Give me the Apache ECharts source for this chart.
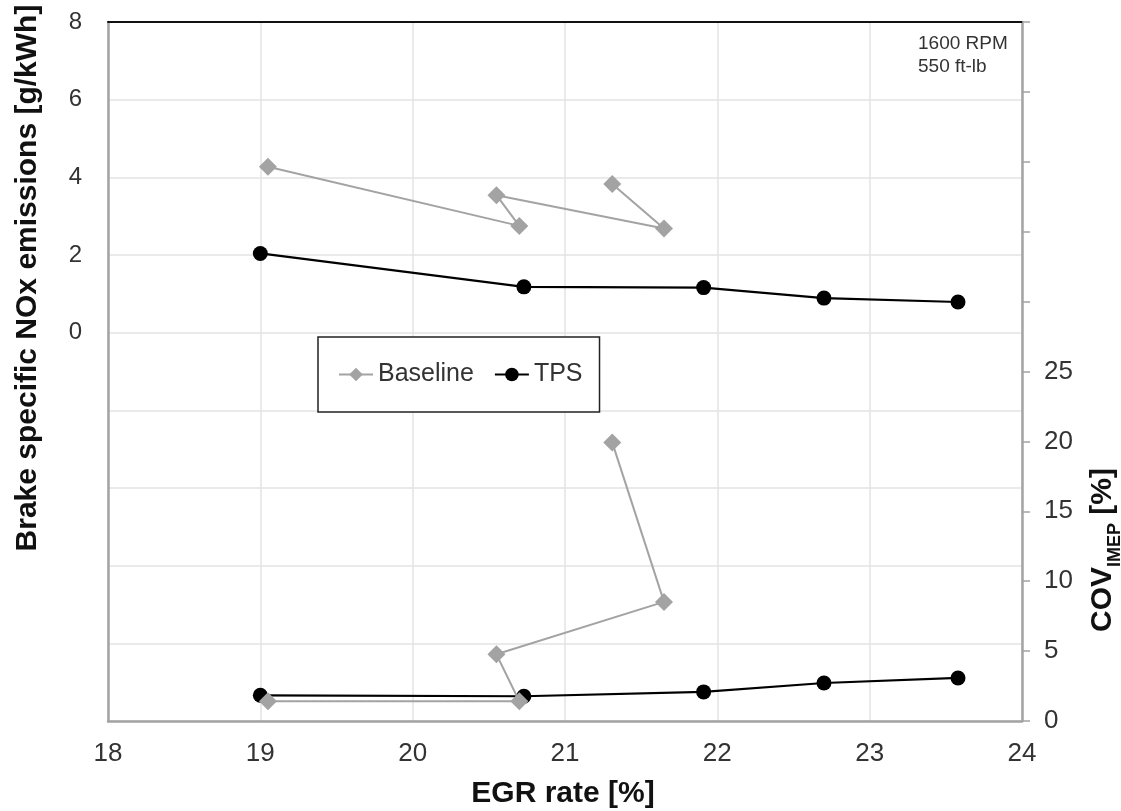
<!DOCTYPE html>
<html>
<head>
<meta charset="utf-8">
<script src="https://cdn.jsdelivr.net/npm/echarts@6/dist/echarts.min.js"></script>
<style>
  html, body { margin: 0; padding: 0; background: #fff; }
  #chart { width: 1121px; height: 811px; }
</style>
</head>
<body>
<div id="chart"></div>
<script>
// EGR sweep at 1600 RPM / 550 ft-lb: NOx (upper panel) and COV of IMEP (lower panel)
const egrBaseline = [19.05, 20.70, 20.55, 21.65, 21.31];
const noxBaseline = [4.27, 2.75, 3.54, 2.68, 3.83];
const covBaseline = [1.41, 1.41, 4.77, 8.52, 19.93];

const egrTps = [19.00, 20.73, 21.91, 22.70, 23.58];
const noxTps = [2.04, 1.18, 1.16, 0.89, 0.79];
const covTps = [1.84, 1.77, 2.08, 2.72, 3.08];

const xTicks = [18, 19, 20, 21, 22, 23, 24];
const noxTicks = [0, 2, 4, 6, 8];
const covTicks = [0, 5, 10, 15, 20, 25];

const pairs = (xs, ys) => xs.map((x, i) => [x, ys[i]]);

const FONT = 'Liberation Sans, Arial, sans-serif';
const GREY = '#a3a3a3';

const chart = echarts.init(document.getElementById('chart'), null, { renderer: 'canvas' });

chart.setOption({
  animation: false,
  backgroundColor: '#fff',
  grid: {
    left: 108, right: 99, top: 22, bottom: 90,
    show: false
  },
  xAxis: [
    {
      type: 'value',
      min: xTicks[0], max: xTicks[xTicks.length - 1], interval: 1,
      axisLine: { show: true, onZero: false, lineStyle: { color: GREY, width: 2.5 } },
      axisTick: { show: false },
      axisLabel: { color: '#333', fontSize: 26, fontFamily: FONT, margin: 20 },
      splitLine: { show: true, lineStyle: { color: '#e3e3e3', width: 1.5 } }
    },
    {
      // dark frame line along the top of the plot
      type: 'value', position: 'top',
      min: xTicks[0], max: xTicks[xTicks.length - 1], interval: 1,
      axisLine: { show: true, onZero: false, lineStyle: { color: '#111', width: 2 } },
      axisTick: { show: false },
      axisLabel: { show: false },
      splitLine: { show: false }
    }
  ],
  yAxis: [
    {
      type: 'value',
      min: -10, max: 8, interval: 2,
      axisLine: { show: true, onZero: false, lineStyle: { color: GREY, width: 2.5 } },
      axisTick: { show: false },
      axisLabel: {
        color: '#333', fontSize: 24, fontFamily: FONT, margin: 26,
        formatter: v => (noxTicks.indexOf(v) >= 0 ? String(v) : '')
      },
      splitLine: { show: true, lineStyle: { color: '#e3e3e3', width: 1.5 } }
    },
    {
      type: 'value',
      min: 0, max: 50, interval: 5,
      position: 'right',
      axisLine: { show: true, onZero: false, lineStyle: { color: GREY, width: 2.5 } },
      axisTick: { show: true, inside: false, length: 8, lineStyle: { color: GREY, width: 1.5 } },
      axisLabel: {
        color: '#333', fontSize: 26, fontFamily: FONT, margin: 22,
        formatter: v => (covTicks.indexOf(v) >= 0 ? String(v) : '')
      },
      splitLine: { show: false }
    }
  ],
  legend: {
    left: 318, top: 337,
    orient: 'horizontal',
    data: ['Baseline', 'TPS'],
    backgroundColor: '#fff',
    borderColor: '#222', borderWidth: 1.5, borderRadius: 0,
    padding: [25, 17, 25, 20],
    itemGap: 20, itemWidth: 34, itemHeight: 17,
    textStyle: { color: '#333', fontSize: 25, fontFamily: FONT }
  },
  graphic: [
    {
      type: 'text', x: 28, y: 278, rotation: Math.PI / 2,
      style: {
        text: 'Brake specific NOx emissions [g/kWh]',
        font: 'bold 30px ' + FONT, fill: '#111',
        align: 'center', verticalAlign: 'middle'
      }
    },
    {
      type: 'text', x: 563, y: 794,
      style: {
        text: 'EGR rate [%]',
        font: 'bold 30px ' + FONT, fill: '#111',
        align: 'center', verticalAlign: 'middle'
      }
    },
    {
      type: 'text', x: 1103, y: 550, rotation: Math.PI / 2,
      style: {
        text: '{m|COV}{s|IMEP}{m| [%]}',
        rich: {
          m: { font: 'bold 30px ' + FONT, fill: '#111', verticalAlign: 'bottom' },
          s: { font: 'bold 18px ' + FONT, fill: '#111', padding: [0, 0, -6, 0], verticalAlign: 'bottom' }
        },
        align: 'center', verticalAlign: 'middle'
      }
    },
    {
      type: 'text', x: 918, y: 32,
      style: {
        text: '1600 RPM\n550 ft-lb',
        font: '19px ' + FONT, fill: '#333', lineHeight: 23,
        align: 'left', verticalAlign: 'top'
      }
    }
  ],
  series: [
    {
      name: 'TPS', type: 'line', xAxisIndex: 0, yAxisIndex: 0,
      data: pairs(egrTps, noxTps),
      symbol: 'circle', symbolSize: 15,
      lineStyle: { color: '#000', width: 2.2 },
      itemStyle: { color: '#000' }
    },
    {
      name: 'TPS', type: 'line', xAxisIndex: 0, yAxisIndex: 1,
      data: pairs(egrTps, covTps),
      symbol: 'circle', symbolSize: 15,
      lineStyle: { color: '#000', width: 2.2 },
      itemStyle: { color: '#000' }
    },
    {
      name: 'Baseline', type: 'line', xAxisIndex: 0, yAxisIndex: 0,
      data: pairs(egrBaseline, noxBaseline),
      symbol: 'diamond', symbolSize: 18,
      lineStyle: { color: GREY, width: 2 },
      itemStyle: { color: GREY }
    },
    {
      name: 'Baseline', type: 'line', xAxisIndex: 0, yAxisIndex: 1,
      data: pairs(egrBaseline, covBaseline),
      symbol: 'diamond', symbolSize: 18,
      lineStyle: { color: GREY, width: 2 },
      itemStyle: { color: GREY }
    }
  ]
});
</script>
</body>
</html>
